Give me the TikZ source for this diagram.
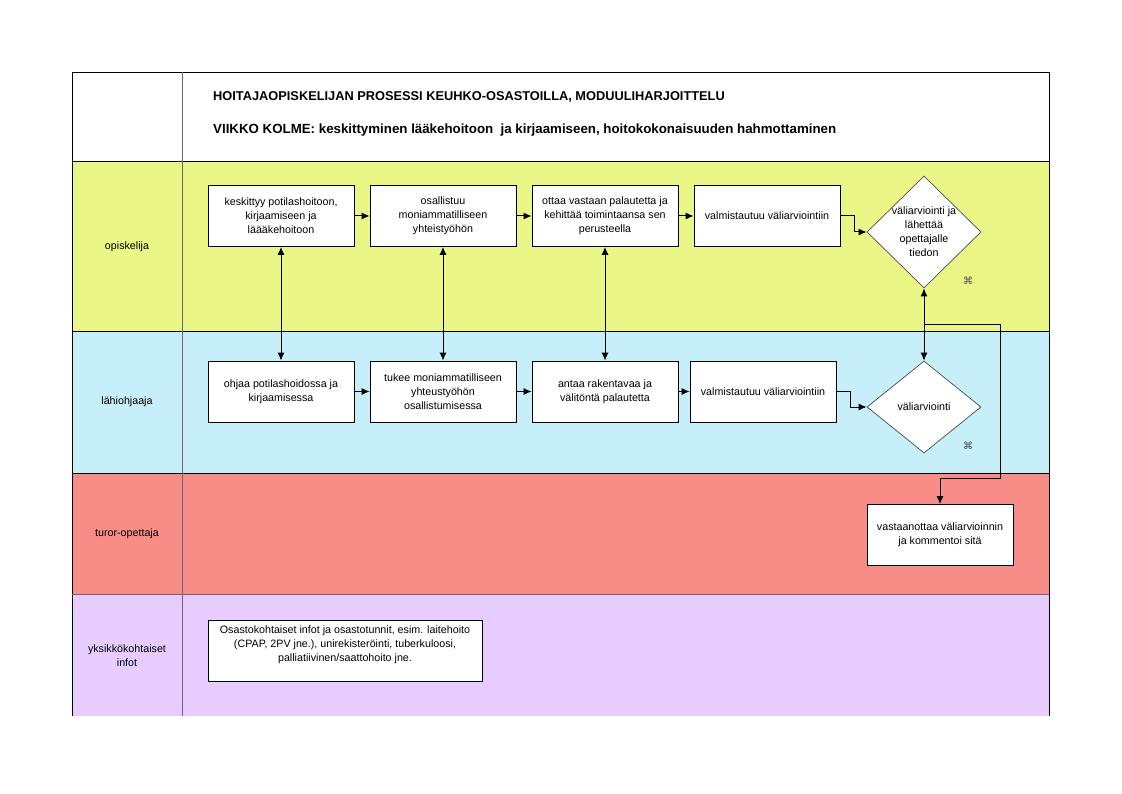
\documentclass[tikz,border=0pt]{standalone}
\usepackage{fontspec}
\setmainfont{Liberation Sans}
\newfontfamily\symfont{DejaVu Sans}
\usetikzlibrary{shapes.geometric, arrows.meta, positioning}
\definecolor{laneyellow}{HTML}{EAF786}
\definecolor{laneblue}{HTML}{C6EFFA}
\definecolor{lanered}{HTML}{F88D88}
\definecolor{lanelilac}{HTML}{E6CCFF}
\definecolor{lanegrey}{HTML}{6E6478}

\begin{document}
\begin{tikzpicture}[x=1pt, y=-1pt,
  lane/.style={draw=black, line width=0.8pt},
  lanelabel/.style={font=\fontsize{10.7}{14}\selectfont, align=center},
  task/.style={rectangle, draw=black, fill=white, line width=0.9pt, minimum width=146pt, minimum height=61pt, align=center, inner sep=2pt, font=\fontsize{10.7}{14}\selectfont},
  check/.style={diamond, draw=black!70, fill=white, line width=0.7pt, inner sep=0pt, minimum width=114pt, minimum height=112pt},
  checktext/.style={font=\fontsize{10.7}{14}\selectfont, align=center},
  flow/.style={-{Latex[length=8pt,width=7pt]}, line width=1pt},
  flowboth/.style={{Latex[length=8pt,width=7pt]}-{Latex[length=8pt,width=7pt]}, line width=1pt}]
\useasboundingbox (0,0) rectangle (1122,794);

% Lanes
\fill[laneyellow] (72,161) rectangle (1049,331);
\fill[laneblue] (72,331) rectangle (1049,473);
\fill[lanered] (72,473) rectangle (1049,594);
\fill[lanelilac] (72,594) rectangle (1049,716);
\draw[lane] (72,716) -- (72,72) -- (1049,72) -- (1049,716);
\draw[lane] (72,161) -- (1049,161);
\draw[lane] (72,331) -- (1049,331);
\draw[lane] (72,473) -- (1049,473);
\draw[lane, draw=lanegrey] (72,594) -- (1049,594);
\draw[lane, draw=lanegrey] (182,72) -- (182,716);

% Title
\node[anchor=base west, inner sep=0pt, font=\fontsize{12.8}{15}\selectfont\bfseries] (title) at (213,101) {HOITAJAOPISKELIJAN PROSESSI KEUHKO-OSASTOILLA, MODUULIHARJOITTELU};
\node[anchor=base west, inner sep=0pt, font=\fontsize{13.3}{15}\selectfont\bfseries] (subtitle) at (213,134) {VIIKKO KOLME: keskittyminen lääkehoitoon\ \ ja kirjaamiseen, hoitokokonaisuuden hahmottaminen};

% Lane labels
\node[lanelabel] (student) at (127,247) {opiskelija};
\node[lanelabel] (mentor) at (127,402) {lähiohjaaja};
\node[lanelabel] (tutor) at (127,534) {turor-opettaja};
\node[lanelabel] (unit) at (127,656) {yksikkökohtaiset\\infot};

% Student row
\node[task] (focus) at (281,216) {keskittyy potilashoitoon,\\kirjaamiseen ja\\läääkehoitoon};
\node[task] (join) at (443,216) {osallistuu\\moniammatilliseen\\yhteistyöhön};
\node[task] (develop) at (605,216) {ottaa vastaan palautetta ja\\kehittää toimintaansa sen\\perusteella};
\node[task] (prepare) at (767,216) {valmistautuu väliarviointiin};
\node[check] (review) at (924,232) {};
\node[checktext] at (review) {väliarviointi ja\\lähettää\\opettajalle\\tiedon};

% Mentor row
\node[task] (guide) at (281,391.5) {ohjaa potilashoidossa ja\\kirjaamisessa};
\node[task] (support) at (443,391.5) {tukee moniammatilliseen\\yhteustyöhön\\osallistumisessa};
\node[task] (feedback) at (605,391.5) {antaa rakentavaa ja\\välitöntä palautetta};
\node[task] (prepare2) at (763,391.5) {valmistautuu väliarviointiin};
\node[check, minimum height=92pt] (review2) at (924,407) {};
\node[checktext] at (review2) {väliarviointi};

% Tutor and unit boxes
\node[task] (receive) at (940,535) {vastaanottaa väliarvioinnin\\ja kommentoi sitä};
\node[task, minimum width=274pt] (infos) at (345,650.5) {};
\node[checktext] at (infos.north) [yshift=-25pt] {Osastokohtaiset infot ja osastotunnit, esim. laitehoito\\(CPAP, 2PV jne.), unirekisteröinti, tuberkuloosi,\\palliatiivinen/saattohoito jne.};

% Small marks
\node[font=\symfont\fontsize{10}{10}\selectfont, text=black!70] (note1) at (968,281) {⌘};
\node[font=\symfont\fontsize{10}{10}\selectfont, text=black!70] (note2) at (968,446) {⌘};

% Arrows
\draw[flow] (focus) -- (join);
\draw[flow] (join) -- (develop);
\draw[flow] (develop) -- (prepare);
\draw[flow] (prepare.east) -- ++(14,0) |- (review.west);
\draw[flow] (guide) -- (support);
\draw[flow] (support) -- (feedback);
\draw[flow] (feedback) -- (prepare2);
\draw[flow] (prepare2.east) -- ++(14,0) |- (review2.west);
\draw[flowboth] (focus) -- (guide);
\draw[flowboth] (join) -- (support);
\draw[flowboth] (develop) -- (feedback);
\draw[flowboth] (review.south) -- (review2.north);
\path (review.south) -- (review2.north) coordinate[midway] (split);
\draw[flow] (split) -| (1000,478) -| (receive.north);
\end{tikzpicture}
\end{document}
